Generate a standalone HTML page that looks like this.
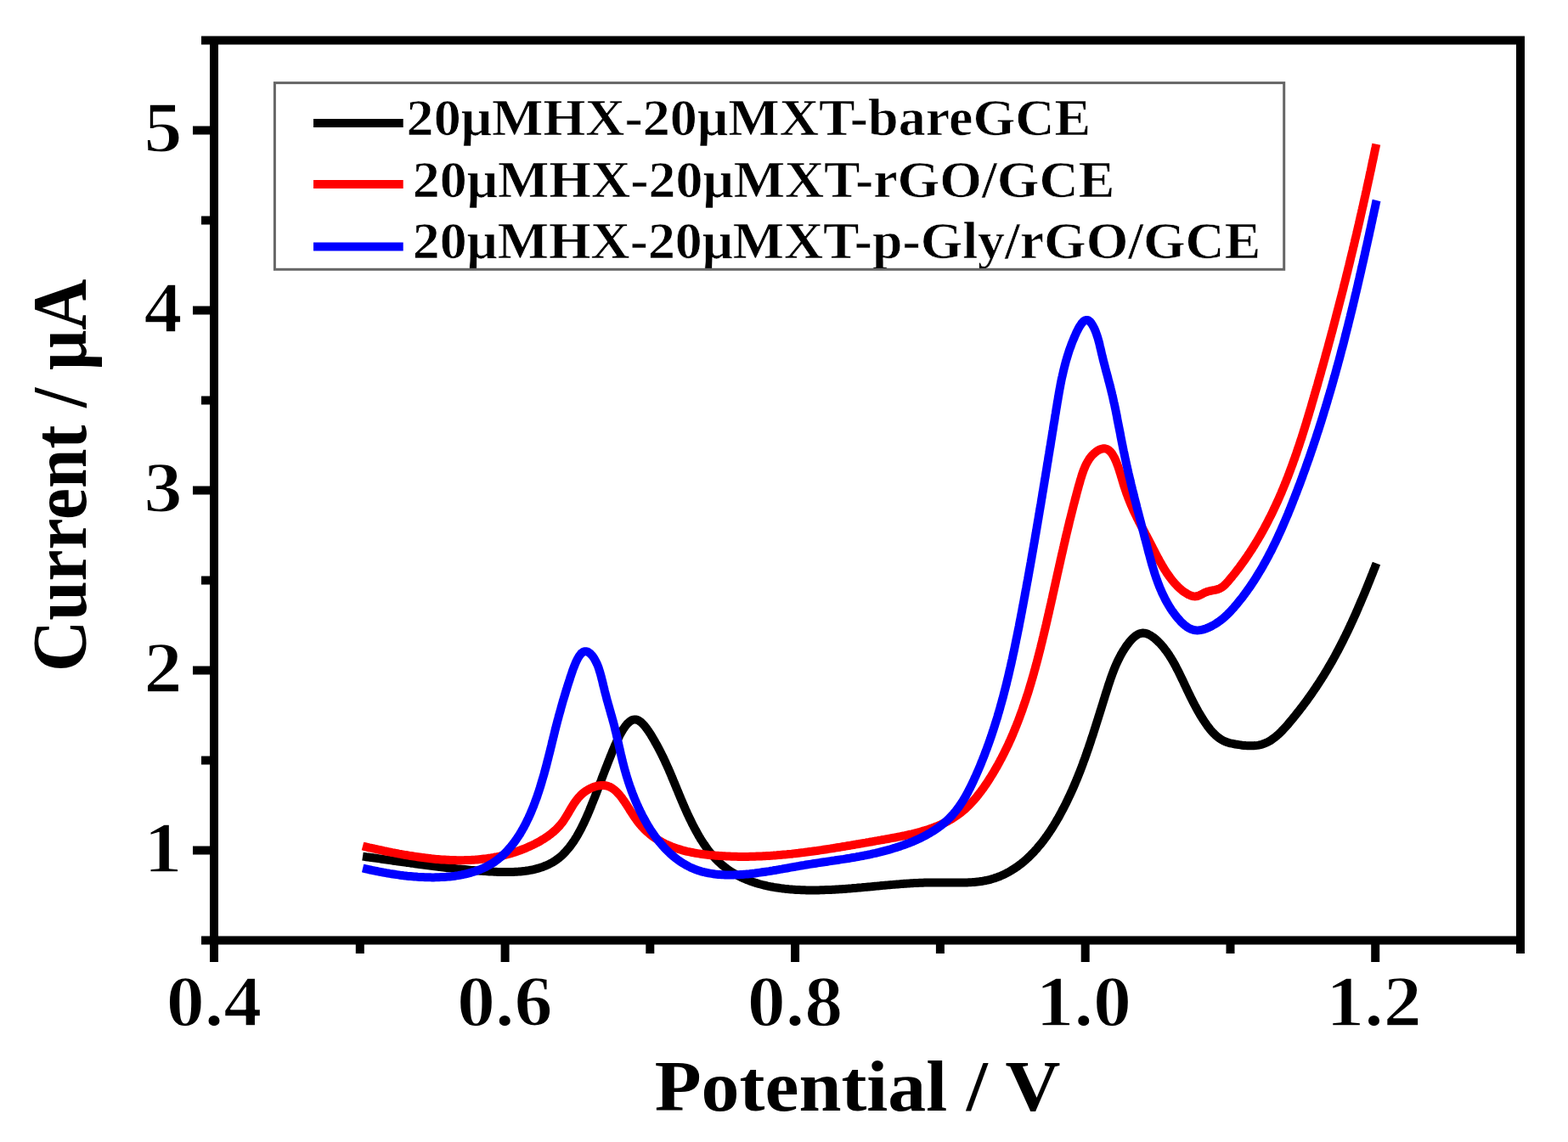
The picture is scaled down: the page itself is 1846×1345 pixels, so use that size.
<!DOCTYPE html>
<html><head><meta charset="utf-8"><title>Current vs Potential</title>
<style>html,body{margin:0;padding:0;background:#fff;}body{width:1846px;height:1345px;overflow:hidden;}svg{display:block;}</style>
</head><body>
<svg width="1846" height="1345" viewBox="0 0 1846 1345">
<rect width="1846" height="1345" fill="#fff"/>
<path d="M427.0,1008.6 L429.0,1008.9 L431.1,1009.2 L433.1,1009.4 L435.1,1009.7 L437.1,1010.0 L439.2,1010.3 L441.2,1010.6 L443.2,1010.8 L445.2,1011.1 L447.2,1011.4 L449.2,1011.7 L451.2,1012.0 L453.1,1012.3 L455.1,1012.5 L457.1,1012.8 L459.1,1013.1 L461.1,1013.4 L463.0,1013.7 L465.0,1013.9 L467.0,1014.2 L468.9,1014.5 L470.9,1014.8 L472.9,1015.0 L474.8,1015.3 L476.8,1015.6 L478.7,1015.9 L480.7,1016.1 L482.6,1016.4 L484.6,1016.7 L486.5,1016.9 L488.5,1017.2 L490.4,1017.5 L492.4,1017.7 L494.3,1018.0 L496.3,1018.3 L498.2,1018.5 L500.2,1018.8 L502.1,1019.0 L504.1,1019.3 L506.0,1019.5 L508.0,1019.8 L509.9,1020.0 L511.9,1020.3 L513.8,1020.5 L515.8,1020.7 L517.7,1021.0 L519.7,1021.2 L521.7,1021.4 L523.6,1021.7 L525.6,1021.9 L527.5,1022.1 L529.5,1022.3 L531.5,1022.5 L533.4,1022.8 L535.4,1023.0 L537.4,1023.2 L539.4,1023.4 L541.4,1023.6 L543.3,1023.8 L545.3,1024.0 L547.3,1024.1 L549.3,1024.3 L551.3,1024.5 L553.3,1024.7 L555.3,1024.9 L557.3,1025.0 L559.4,1025.2 L561.4,1025.4 L563.4,1025.5 L565.4,1025.7 L567.5,1025.8 L569.5,1026.0 L571.6,1026.1 L573.6,1026.3 L575.7,1026.4 L577.7,1026.5 L579.8,1026.6 L581.9,1026.7 L583.9,1026.8 L586.0,1026.9 L588.1,1027.0 L590.1,1027.0 L592.2,1027.1 L594.3,1027.1 L596.3,1027.1 L598.4,1027.1 L600.4,1027.1 L602.5,1027.0 L604.5,1026.9 L606.5,1026.8 L608.5,1026.7 L610.5,1026.6 L612.6,1026.4 L614.5,1026.2 L616.5,1026.0 L618.5,1025.8 L620.4,1025.5 L622.4,1025.2 L624.3,1024.8 L626.2,1024.5 L628.1,1024.1 L630.0,1023.6 L631.9,1023.1 L633.7,1022.6 L635.6,1022.1 L637.4,1021.5 L639.2,1020.9 L640.9,1020.2 L642.7,1019.5 L644.4,1018.7 L646.1,1017.9 L647.8,1017.1 L649.5,1016.2 L651.1,1015.3 L652.7,1014.3 L654.3,1013.2 L655.8,1012.1 L657.3,1011.0 L658.8,1009.8 L660.3,1008.6 L661.7,1007.3 L663.2,1005.9 L664.5,1004.5 L665.9,1003.1 L667.2,1001.6 L668.5,1000.1 L669.8,998.6 L671.0,997.0 L672.2,995.3 L673.4,993.7 L674.6,992.0 L675.8,990.3 L676.9,988.5 L678.0,986.8 L679.1,985.0 L680.1,983.2 L681.2,981.3 L682.2,979.5 L683.2,977.6 L684.2,975.8 L685.1,973.9 L686.0,972.0 L687.0,970.1 L687.9,968.2 L688.7,966.3 L689.6,964.5 L690.4,962.6 L691.3,960.7 L692.1,958.8 L692.9,956.9 L693.7,955.1 L694.4,953.2 L695.2,951.4 L695.9,949.6 L696.6,947.8 L697.3,946.0 L698.0,944.3 L698.7,942.5 L699.4,940.8 L700.1,939.1 L700.8,937.4 L701.4,935.7 L702.1,934.0 L702.7,932.3 L703.4,930.6 L704.0,928.9 L704.7,927.1 L705.3,925.4 L706.0,923.7 L706.6,922.0 L707.3,920.3 L708.0,918.5 L708.6,916.7 L709.3,915.0 L710.0,913.1 L710.7,911.3 L711.4,909.5 L712.1,907.6 L712.8,905.7 L713.6,903.8 L714.4,901.8 L715.1,899.8 L715.9,897.8 L716.7,895.7 L717.6,893.6 L718.4,891.5 L719.3,889.3 L720.2,887.1 L721.1,884.8 L722.1,882.5 L723.0,880.3 L724.0,877.9 L725.0,875.7 L726.1,873.4 L727.1,871.1 L728.2,868.9 L729.2,866.8 L730.3,864.7 L731.5,862.6 L732.6,860.7 L733.7,858.8 L734.9,857.1 L736.1,855.4 L737.2,853.9 L738.4,852.5 L739.7,851.3 L740.9,850.2 L742.1,849.3 L743.3,848.5 L744.6,847.9 L745.9,847.6 L747.1,847.4 L748.4,847.5 L749.7,847.7 L751.0,848.2 L752.3,848.9 L753.6,849.8 L754.9,850.8 L756.1,852.0 L757.4,853.3 L758.7,854.7 L760.0,856.3 L761.2,857.9 L762.4,859.6 L763.7,861.4 L764.9,863.3 L766.1,865.1 L767.2,867.0 L768.4,868.9 L769.5,870.8 L770.6,872.7 L771.6,874.6 L772.7,876.4 L773.7,878.3 L774.7,880.1 L775.6,881.9 L776.6,883.7 L777.5,885.5 L778.4,887.3 L779.3,889.1 L780.2,890.8 L781.0,892.6 L781.9,894.4 L782.7,896.1 L783.5,897.9 L784.3,899.7 L785.1,901.4 L785.9,903.2 L786.7,904.9 L787.5,906.7 L788.2,908.5 L789.0,910.2 L789.7,912.0 L790.5,913.8 L791.2,915.6 L792.0,917.4 L792.7,919.2 L793.5,921.0 L794.2,922.8 L795.0,924.7 L795.8,926.5 L796.5,928.4 L797.3,930.2 L798.1,932.1 L798.8,934.0 L799.6,935.9 L800.4,937.8 L801.2,939.7 L802.0,941.6 L802.8,943.5 L803.6,945.4 L804.4,947.3 L805.2,949.2 L806.1,951.1 L806.9,953.0 L807.8,955.0 L808.6,956.9 L809.5,958.8 L810.4,960.7 L811.3,962.6 L812.2,964.5 L813.1,966.3 L814.0,968.2 L814.9,970.1 L815.9,972.0 L816.8,973.8 L817.8,975.6 L818.8,977.5 L819.8,979.3 L820.8,981.1 L821.8,982.9 L822.8,984.7 L823.9,986.4 L824.9,988.2 L826.0,989.9 L827.1,991.6 L828.2,993.3 L829.4,995.0 L830.5,996.6 L831.7,998.3 L832.8,999.9 L834.0,1001.5 L835.2,1003.0 L836.5,1004.6 L837.7,1006.1 L839.0,1007.6 L840.3,1009.0 L841.6,1010.5 L842.9,1011.9 L844.3,1013.3 L845.6,1014.6 L847.0,1015.9 L848.4,1017.2 L849.9,1018.5 L851.3,1019.7 L852.8,1020.9 L854.3,1022.1 L855.8,1023.2 L857.3,1024.3 L858.9,1025.4 L860.5,1026.4 L862.1,1027.4 L863.7,1028.4 L865.3,1029.3 L866.9,1030.3 L868.6,1031.2 L870.3,1032.0 L872.0,1032.9 L873.7,1033.7 L875.4,1034.5 L877.2,1035.2 L878.9,1036.0 L880.7,1036.7 L882.5,1037.4 L884.3,1038.0 L886.1,1038.7 L888.0,1039.3 L889.8,1039.9 L891.7,1040.4 L893.5,1041.0 L895.4,1041.5 L897.3,1042.0 L899.2,1042.5 L901.1,1042.9 L903.0,1043.4 L905.0,1043.8 L906.9,1044.2 L908.9,1044.5 L910.8,1044.9 L912.8,1045.2 L914.8,1045.6 L916.8,1045.8 L918.8,1046.1 L920.8,1046.4 L922.8,1046.6 L924.8,1046.9 L926.8,1047.1 L928.9,1047.3 L930.9,1047.4 L932.9,1047.6 L935.0,1047.7 L937.0,1047.9 L939.1,1048.0 L941.1,1048.1 L943.2,1048.2 L945.3,1048.2 L947.3,1048.3 L949.4,1048.4 L951.5,1048.4 L953.5,1048.4 L955.6,1048.4 L957.7,1048.4 L959.8,1048.4 L961.8,1048.4 L963.9,1048.4 L966.0,1048.3 L968.0,1048.3 L970.1,1048.2 L972.2,1048.1 L974.2,1048.1 L976.3,1048.0 L978.4,1047.9 L980.4,1047.8 L982.5,1047.7 L984.5,1047.5 L986.6,1047.4 L988.6,1047.3 L990.6,1047.2 L992.7,1047.0 L994.7,1046.9 L996.7,1046.7 L998.7,1046.6 L1000.7,1046.4 L1002.7,1046.3 L1004.7,1046.1 L1006.7,1045.9 L1008.6,1045.8 L1010.6,1045.6 L1012.6,1045.4 L1014.5,1045.3 L1016.5,1045.1 L1018.4,1044.9 L1020.4,1044.7 L1022.3,1044.5 L1024.3,1044.4 L1026.2,1044.2 L1028.1,1044.0 L1030.1,1043.8 L1032.0,1043.6 L1033.9,1043.4 L1035.8,1043.3 L1037.8,1043.1 L1039.7,1042.9 L1041.6,1042.7 L1043.5,1042.6 L1045.4,1042.4 L1047.4,1042.2 L1049.3,1042.1 L1051.2,1041.9 L1053.1,1041.7 L1055.0,1041.6 L1057.0,1041.4 L1058.9,1041.3 L1060.8,1041.1 L1062.8,1041.0 L1064.7,1040.8 L1066.6,1040.7 L1068.6,1040.6 L1070.5,1040.4 L1072.5,1040.3 L1074.5,1040.2 L1076.4,1040.1 L1078.4,1040.0 L1080.4,1039.9 L1082.4,1039.8 L1084.4,1039.8 L1086.4,1039.7 L1088.4,1039.6 L1090.4,1039.6 L1092.4,1039.5 L1094.4,1039.5 L1096.5,1039.4 L1098.5,1039.4 L1100.6,1039.4 L1102.7,1039.4 L1104.7,1039.4 L1106.8,1039.4 L1108.9,1039.4 L1111.0,1039.5 L1113.1,1039.5 L1115.3,1039.5 L1117.4,1039.6 L1119.5,1039.6 L1121.6,1039.6 L1123.8,1039.6 L1125.9,1039.6 L1128.0,1039.6 L1130.1,1039.6 L1132.2,1039.6 L1134.4,1039.6 L1136.5,1039.5 L1138.6,1039.4 L1140.7,1039.3 L1142.8,1039.2 L1144.8,1039.1 L1146.9,1038.9 L1148.9,1038.7 L1151.0,1038.5 L1153.0,1038.3 L1155.0,1038.0 L1157.0,1037.7 L1159.0,1037.3 L1160.9,1037.0 L1162.9,1036.5 L1164.8,1036.1 L1166.7,1035.6 L1168.6,1035.0 L1170.4,1034.5 L1172.3,1033.8 L1174.1,1033.2 L1175.9,1032.5 L1177.7,1031.8 L1179.5,1031.0 L1181.2,1030.2 L1182.9,1029.4 L1184.6,1028.6 L1186.3,1027.7 L1188.0,1026.8 L1189.7,1025.8 L1191.3,1024.8 L1192.9,1023.8 L1194.5,1022.8 L1196.1,1021.7 L1197.7,1020.6 L1199.2,1019.5 L1200.8,1018.3 L1202.3,1017.2 L1203.8,1016.0 L1205.3,1014.7 L1206.7,1013.5 L1208.2,1012.2 L1209.6,1010.9 L1211.1,1009.5 L1212.5,1008.2 L1213.8,1006.8 L1215.2,1005.4 L1216.6,1004.0 L1217.9,1002.6 L1219.2,1001.1 L1220.6,999.6 L1221.8,998.1 L1223.1,996.6 L1224.4,995.1 L1225.7,993.5 L1226.9,992.0 L1228.1,990.4 L1229.3,988.8 L1230.5,987.2 L1231.7,985.5 L1232.9,983.9 L1234.0,982.2 L1235.2,980.6 L1236.3,978.9 L1237.4,977.2 L1238.5,975.5 L1239.6,973.8 L1240.7,972.0 L1241.7,970.3 L1242.8,968.6 L1243.8,966.8 L1244.8,965.0 L1245.9,963.3 L1246.9,961.5 L1247.8,959.7 L1248.8,957.9 L1249.8,956.1 L1250.7,954.3 L1251.7,952.5 L1252.6,950.7 L1253.5,948.9 L1254.5,947.1 L1255.4,945.3 L1256.2,943.5 L1257.1,941.6 L1258.0,939.8 L1258.8,938.0 L1259.7,936.2 L1260.5,934.4 L1261.4,932.5 L1262.2,930.7 L1263.0,928.9 L1263.8,927.1 L1264.6,925.2 L1265.4,923.4 L1266.1,921.6 L1266.9,919.7 L1267.7,917.9 L1268.4,916.1 L1269.2,914.2 L1269.9,912.4 L1270.6,910.6 L1271.4,908.7 L1272.1,906.9 L1272.8,905.0 L1273.5,903.2 L1274.2,901.3 L1274.9,899.5 L1275.5,897.6 L1276.2,895.8 L1276.9,893.9 L1277.6,892.1 L1278.2,890.2 L1278.9,888.4 L1279.5,886.5 L1280.2,884.6 L1280.8,882.8 L1281.5,880.9 L1282.1,879.0 L1282.7,877.2 L1283.4,875.3 L1284.0,873.4 L1284.6,871.5 L1285.2,869.6 L1285.8,867.8 L1286.5,865.9 L1287.1,864.0 L1287.7,862.1 L1288.3,860.2 L1288.9,858.3 L1289.5,856.4 L1290.1,854.5 L1290.7,852.6 L1291.3,850.7 L1291.9,848.8 L1292.5,846.9 L1293.1,845.0 L1293.7,843.1 L1294.3,841.2 L1294.9,839.3 L1295.5,837.3 L1296.1,835.4 L1296.7,833.5 L1297.3,831.6 L1297.9,829.6 L1298.5,827.7 L1299.1,825.8 L1299.7,823.8 L1300.3,821.9 L1300.9,819.9 L1301.5,818.0 L1302.1,816.0 L1302.8,814.1 L1303.4,812.1 L1304.0,810.2 L1304.6,808.2 L1305.3,806.2 L1305.9,804.3 L1306.6,802.3 L1307.2,800.4 L1307.9,798.4 L1308.6,796.5 L1309.3,794.6 L1310.0,792.6 L1310.7,790.7 L1311.5,788.8 L1312.2,786.9 L1313.0,785.0 L1313.8,783.1 L1314.7,781.2 L1315.5,779.4 L1316.4,777.5 L1317.3,775.7 L1318.2,773.9 L1319.2,772.1 L1320.1,770.3 L1321.2,768.5 L1322.2,766.8 L1323.3,765.1 L1324.4,763.4 L1325.5,761.7 L1326.7,760.0 L1327.9,758.4 L1329.1,756.8 L1330.4,755.2 L1331.7,753.7 L1333.1,752.3 L1334.4,751.0 L1335.9,749.7 L1337.3,748.6 L1338.8,747.7 L1340.2,746.9 L1341.8,746.3 L1343.3,745.9 L1344.9,745.6 L1346.4,745.6 L1348.0,745.8 L1349.7,746.2 L1351.3,746.8 L1352.9,747.6 L1354.5,748.4 L1356.1,749.5 L1357.7,750.6 L1359.3,751.8 L1360.8,753.1 L1362.4,754.5 L1363.8,756.0 L1365.3,757.4 L1366.7,758.9 L1368.1,760.5 L1369.4,762.0 L1370.7,763.6 L1371.9,765.3 L1373.2,766.9 L1374.4,768.6 L1375.6,770.3 L1376.7,772.0 L1377.8,773.8 L1378.9,775.5 L1380.0,777.3 L1381.0,779.1 L1382.1,780.9 L1383.1,782.8 L1384.1,784.6 L1385.0,786.4 L1386.0,788.3 L1386.9,790.1 L1387.9,792.0 L1388.8,793.9 L1389.7,795.7 L1390.6,797.6 L1391.5,799.5 L1392.4,801.3 L1393.3,803.2 L1394.1,805.0 L1395.0,806.9 L1395.9,808.7 L1396.8,810.6 L1397.6,812.4 L1398.5,814.2 L1399.4,816.1 L1400.3,817.9 L1401.1,819.7 L1402.0,821.5 L1402.9,823.3 L1403.8,825.1 L1404.7,826.9 L1405.7,828.7 L1406.6,830.5 L1407.5,832.2 L1408.5,834.0 L1409.4,835.7 L1410.4,837.5 L1411.4,839.2 L1412.4,840.9 L1413.4,842.6 L1414.5,844.4 L1415.5,846.0 L1416.6,847.7 L1417.7,849.4 L1418.8,851.1 L1420.0,852.7 L1421.1,854.4 L1422.3,856.0 L1423.6,857.6 L1424.8,859.2 L1426.1,860.7 L1427.4,862.2 L1428.8,863.6 L1430.2,865.0 L1431.6,866.4 L1433.1,867.6 L1434.6,868.8 L1436.1,869.9 L1437.8,871.0 L1439.4,871.9 L1441.1,872.8 L1442.9,873.6 L1444.7,874.2 L1446.6,874.8 L1448.5,875.3 L1450.5,875.7 L1452.4,876.1 L1454.4,876.5 L1456.4,876.8 L1458.4,877.1 L1460.4,877.4 L1462.4,877.7 L1464.4,877.9 L1466.4,878.1 L1468.4,878.2 L1470.3,878.3 L1472.3,878.3 L1474.3,878.3 L1476.2,878.2 L1478.1,878.1 L1480.0,877.9 L1481.9,877.6 L1483.8,877.2 L1485.6,876.7 L1487.4,876.1 L1489.2,875.4 L1491.0,874.7 L1492.7,873.8 L1494.4,872.9 L1496.0,871.9 L1497.7,870.8 L1499.3,869.6 L1500.9,868.4 L1502.5,867.1 L1504.0,865.8 L1505.6,864.4 L1507.1,863.0 L1508.6,861.5 L1510.0,860.0 L1511.5,858.4 L1512.9,856.9 L1514.4,855.3 L1515.8,853.7 L1517.2,852.0 L1518.5,850.4 L1519.9,848.8 L1521.3,847.1 L1522.6,845.5 L1523.9,843.9 L1525.2,842.3 L1526.5,840.6 L1527.8,839.0 L1529.1,837.4 L1530.4,835.7 L1531.6,834.1 L1532.9,832.5 L1534.1,830.8 L1535.4,829.2 L1536.6,827.6 L1537.8,826.0 L1539.0,824.3 L1540.1,822.7 L1541.3,821.1 L1542.5,819.4 L1543.6,817.8 L1544.8,816.1 L1545.9,814.5 L1547.0,812.9 L1548.1,811.2 L1549.3,809.6 L1550.3,807.9 L1551.4,806.3 L1552.5,804.6 L1553.6,803.0 L1554.6,801.3 L1555.7,799.7 L1556.7,798.0 L1557.8,796.4 L1558.8,794.7 L1559.8,793.0 L1560.8,791.4 L1561.9,789.7 L1562.9,788.0 L1563.8,786.3 L1564.8,784.6 L1565.8,783.0 L1566.8,781.3 L1567.8,779.6 L1568.7,777.9 L1569.7,776.2 L1570.6,774.5 L1571.6,772.8 L1572.5,771.0 L1573.4,769.3 L1574.3,767.6 L1575.3,765.9 L1576.2,764.1 L1577.1,762.4 L1578.0,760.6 L1578.9,758.9 L1579.8,757.1 L1580.7,755.4 L1581.6,753.6 L1582.5,751.8 L1583.3,750.0 L1584.2,748.3 L1585.1,746.5 L1585.9,744.7 L1586.8,742.9 L1587.7,741.1 L1588.5,739.2 L1589.4,737.4 L1590.2,735.6 L1591.1,733.8 L1591.9,731.9 L1592.8,730.1 L1593.6,728.3 L1594.4,726.4 L1595.3,724.6 L1596.1,722.7 L1596.9,720.9 L1597.7,719.0 L1598.5,717.2 L1599.3,715.3 L1600.1,713.4 L1600.9,711.6 L1601.7,709.7 L1602.5,707.8 L1603.3,706.0 L1604.1,704.1 L1604.9,702.3 L1605.7,700.4 L1606.5,698.5 L1607.2,696.7 L1608.0,694.8 L1608.8,692.9 L1609.5,691.1 L1610.3,689.2 L1611.0,687.4 L1611.8,685.5 L1612.5,683.7 L1613.3,681.8 L1614.0,680.0 L1614.7,678.1 L1615.5,676.3 L1616.2,674.4 L1616.9,672.6 L1617.6,670.8 L1618.4,669.0 L1619.1,667.1 L1619.8,665.3 L1620.5,663.5" fill="none" stroke="#000" stroke-width="10" stroke-linejoin="round" stroke-linecap="butt"/>
<path d="M427.0,996.5 L428.9,997.0 L430.8,997.4 L432.7,997.8 L434.6,998.3 L436.5,998.7 L438.4,999.1 L440.4,999.5 L442.3,1000.0 L444.2,1000.4 L446.2,1000.8 L448.1,1001.2 L450.0,1001.6 L452.0,1002.1 L453.9,1002.5 L455.9,1002.9 L457.9,1003.3 L459.8,1003.7 L461.8,1004.1 L463.8,1004.4 L465.8,1004.8 L467.7,1005.2 L469.7,1005.6 L471.7,1005.9 L473.7,1006.3 L475.7,1006.7 L477.7,1007.0 L479.7,1007.3 L481.7,1007.7 L483.7,1008.0 L485.7,1008.3 L487.7,1008.6 L489.7,1008.9 L491.7,1009.2 L493.7,1009.5 L495.7,1009.8 L497.7,1010.1 L499.7,1010.3 L501.7,1010.6 L503.7,1010.8 L505.7,1011.0 L507.7,1011.3 L509.7,1011.5 L511.8,1011.7 L513.8,1011.9 L515.8,1012.0 L517.8,1012.2 L519.8,1012.4 L521.8,1012.5 L523.8,1012.6 L525.8,1012.7 L527.8,1012.8 L529.9,1012.9 L531.9,1013.0 L533.9,1013.1 L535.9,1013.1 L537.9,1013.2 L539.9,1013.2 L541.9,1013.2 L543.9,1013.2 L545.9,1013.2 L547.8,1013.1 L549.8,1013.1 L551.8,1013.0 L553.8,1012.9 L555.8,1012.8 L557.8,1012.7 L559.7,1012.6 L561.7,1012.4 L563.7,1012.2 L565.6,1012.1 L567.6,1011.8 L569.6,1011.6 L571.5,1011.4 L573.5,1011.1 L575.4,1010.8 L577.3,1010.6 L579.3,1010.2 L581.2,1009.9 L583.1,1009.5 L585.1,1009.2 L587.0,1008.8 L588.9,1008.4 L590.8,1007.9 L592.7,1007.5 L594.6,1007.0 L596.5,1006.5 L598.4,1006.0 L600.3,1005.4 L602.2,1004.9 L604.1,1004.3 L606.0,1003.7 L607.9,1003.0 L609.7,1002.4 L611.6,1001.7 L613.5,1001.0 L615.4,1000.3 L617.2,999.6 L619.1,998.8 L620.9,998.0 L622.8,997.2 L624.6,996.3 L626.5,995.5 L628.3,994.6 L630.2,993.7 L632.0,992.7 L633.8,991.8 L635.6,990.8 L637.3,989.7 L639.1,988.7 L640.8,987.6 L642.5,986.5 L644.2,985.3 L645.9,984.2 L647.5,982.9 L649.1,981.7 L650.7,980.4 L652.2,979.1 L653.7,977.8 L655.2,976.4 L656.6,974.9 L657.9,973.5 L659.3,972.0 L660.5,970.5 L661.8,968.9 L663.0,967.3 L664.1,965.6 L665.2,963.9 L666.3,962.2 L667.3,960.5 L668.4,958.8 L669.4,957.1 L670.4,955.3 L671.4,953.6 L672.4,951.9 L673.5,950.1 L674.5,948.4 L675.6,946.7 L676.7,945.1 L677.9,943.4 L679.1,941.8 L680.3,940.3 L681.6,938.8 L683.0,937.3 L684.4,935.9 L685.9,934.5 L687.5,933.3 L689.2,932.0 L690.9,930.9 L692.7,929.8 L694.5,928.8 L696.3,928.0 L698.2,927.2 L700.1,926.5 L702.0,925.9 L703.9,925.5 L705.8,925.2 L707.6,925.0 L709.4,924.9 L711.1,925.0 L712.8,925.2 L714.5,925.6 L716.1,926.1 L717.6,926.7 L719.2,927.4 L720.6,928.3 L722.0,929.3 L723.4,930.3 L724.8,931.5 L726.1,932.8 L727.4,934.1 L728.7,935.5 L730.0,937.0 L731.2,938.5 L732.4,940.1 L733.6,941.8 L734.8,943.5 L736.0,945.3 L737.2,947.0 L738.3,948.8 L739.5,950.7 L740.7,952.5 L741.8,954.4 L743.0,956.2 L744.2,958.1 L745.4,959.9 L746.6,961.7 L747.9,963.5 L749.1,965.3 L750.4,967.1 L751.7,968.8 L753.0,970.4 L754.4,972.0 L755.8,973.6 L757.2,975.1 L758.6,976.6 L760.1,978.0 L761.5,979.4 L763.1,980.7 L764.6,982.0 L766.2,983.3 L767.7,984.5 L769.3,985.7 L771.0,986.8 L772.6,987.9 L774.3,988.9 L776.0,990.0 L777.7,990.9 L779.4,991.9 L781.1,992.8 L782.9,993.7 L784.7,994.5 L786.5,995.3 L788.3,996.1 L790.1,996.9 L791.9,997.6 L793.8,998.3 L795.7,998.9 L797.5,999.6 L799.4,1000.2 L801.3,1000.7 L803.2,1001.3 L805.2,1001.8 L807.1,1002.3 L809.1,1002.8 L811.0,1003.2 L813.0,1003.6 L814.9,1004.0 L816.9,1004.4 L818.9,1004.8 L820.9,1005.1 L822.9,1005.4 L824.9,1005.7 L826.9,1006.0 L828.9,1006.3 L830.9,1006.5 L832.9,1006.7 L834.9,1007.0 L836.9,1007.2 L838.9,1007.3 L841.0,1007.5 L843.0,1007.7 L845.0,1007.8 L847.0,1008.0 L849.0,1008.1 L851.0,1008.2 L853.0,1008.3 L855.0,1008.4 L857.0,1008.5 L859.0,1008.6 L861.0,1008.7 L863.0,1008.7 L865.0,1008.8 L867.0,1008.8 L869.0,1008.9 L871.0,1008.9 L873.0,1008.9 L875.0,1008.9 L876.9,1008.9 L878.9,1008.9 L880.9,1008.9 L882.9,1008.8 L884.9,1008.8 L886.8,1008.7 L888.8,1008.7 L890.8,1008.6 L892.8,1008.6 L894.7,1008.5 L896.7,1008.4 L898.7,1008.3 L900.7,1008.2 L902.6,1008.1 L904.6,1008.0 L906.6,1007.9 L908.5,1007.7 L910.5,1007.6 L912.5,1007.4 L914.4,1007.3 L916.4,1007.1 L918.4,1007.0 L920.3,1006.8 L922.3,1006.6 L924.3,1006.4 L926.2,1006.3 L928.2,1006.1 L930.1,1005.9 L932.1,1005.7 L934.1,1005.4 L936.0,1005.2 L938.0,1005.0 L940.0,1004.8 L941.9,1004.5 L943.9,1004.3 L945.8,1004.1 L947.8,1003.8 L949.8,1003.6 L951.7,1003.3 L953.7,1003.0 L955.7,1002.8 L957.6,1002.5 L959.6,1002.2 L961.6,1002.0 L963.5,1001.7 L965.5,1001.4 L967.5,1001.1 L969.4,1000.8 L971.4,1000.5 L973.4,1000.2 L975.3,999.9 L977.3,999.6 L979.3,999.3 L981.3,999.0 L983.2,998.6 L985.2,998.3 L987.2,998.0 L989.2,997.7 L991.2,997.3 L993.1,997.0 L995.1,996.7 L997.1,996.3 L999.1,996.0 L1001.1,995.7 L1003.1,995.3 L1005.1,995.0 L1007.0,994.6 L1009.0,994.3 L1011.0,994.0 L1013.0,993.6 L1015.0,993.3 L1017.0,992.9 L1019.0,992.6 L1021.0,992.2 L1023.0,991.9 L1025.1,991.5 L1027.1,991.2 L1029.1,990.8 L1031.1,990.4 L1033.1,990.1 L1035.1,989.7 L1037.2,989.4 L1039.2,989.0 L1041.2,988.7 L1043.2,988.3 L1045.3,988.0 L1047.3,987.6 L1049.3,987.2 L1051.3,986.8 L1053.4,986.5 L1055.4,986.1 L1057.4,985.7 L1059.4,985.3 L1061.4,984.9 L1063.4,984.5 L1065.4,984.1 L1067.4,983.6 L1069.4,983.2 L1071.4,982.7 L1073.4,982.3 L1075.4,981.8 L1077.3,981.3 L1079.3,980.8 L1081.2,980.3 L1083.2,979.8 L1085.1,979.2 L1087.0,978.6 L1088.9,978.1 L1090.8,977.5 L1092.7,976.9 L1094.6,976.2 L1096.5,975.6 L1098.3,974.9 L1100.2,974.2 L1102.0,973.5 L1103.8,972.8 L1105.6,972.0 L1107.4,971.2 L1109.2,970.4 L1110.9,969.6 L1112.7,968.7 L1114.4,967.9 L1116.1,967.0 L1117.8,966.0 L1119.4,965.1 L1121.1,964.1 L1122.7,963.1 L1124.3,962.0 L1125.9,960.9 L1127.5,959.8 L1129.0,958.7 L1130.6,957.5 L1132.1,956.3 L1133.5,955.1 L1135.0,953.9 L1136.5,952.6 L1137.9,951.3 L1139.3,949.9 L1140.7,948.6 L1142.0,947.2 L1143.4,945.8 L1144.7,944.3 L1146.0,942.9 L1147.3,941.4 L1148.6,939.9 L1149.9,938.4 L1151.1,936.9 L1152.3,935.3 L1153.6,933.7 L1154.8,932.2 L1155.9,930.6 L1157.1,929.0 L1158.3,927.3 L1159.4,925.7 L1160.6,924.0 L1161.7,922.4 L1162.8,920.7 L1163.9,919.0 L1165.0,917.3 L1166.0,915.6 L1167.1,913.9 L1168.1,912.2 L1169.2,910.5 L1170.2,908.8 L1171.2,907.1 L1172.2,905.3 L1173.2,903.6 L1174.2,901.9 L1175.2,900.1 L1176.1,898.4 L1177.1,896.6 L1178.0,894.8 L1179.0,893.1 L1179.9,891.3 L1180.8,889.5 L1181.7,887.7 L1182.6,885.9 L1183.5,884.1 L1184.4,882.3 L1185.3,880.5 L1186.1,878.7 L1187.0,876.9 L1187.8,875.1 L1188.6,873.2 L1189.5,871.4 L1190.3,869.6 L1191.1,867.7 L1191.9,865.9 L1192.7,864.1 L1193.4,862.2 L1194.2,860.4 L1195.0,858.5 L1195.7,856.6 L1196.5,854.8 L1197.2,852.9 L1198.0,851.0 L1198.7,849.2 L1199.4,847.3 L1200.1,845.4 L1200.8,843.5 L1201.5,841.6 L1202.2,839.7 L1202.9,837.8 L1203.6,835.9 L1204.2,834.0 L1204.9,832.1 L1205.5,830.2 L1206.2,828.3 L1206.8,826.4 L1207.5,824.5 L1208.1,822.6 L1208.7,820.7 L1209.3,818.8 L1210.0,816.8 L1210.6,814.9 L1211.2,813.0 L1211.8,811.1 L1212.3,809.2 L1212.9,807.2 L1213.5,805.3 L1214.1,803.4 L1214.6,801.4 L1215.2,799.5 L1215.8,797.6 L1216.3,795.6 L1216.9,793.7 L1217.4,791.8 L1217.9,789.8 L1218.5,787.9 L1219.0,786.0 L1219.5,784.0 L1220.1,782.1 L1220.6,780.1 L1221.1,778.2 L1221.6,776.3 L1222.1,774.3 L1222.6,772.4 L1223.1,770.4 L1223.6,768.5 L1224.1,766.6 L1224.6,764.6 L1225.1,762.7 L1225.5,760.7 L1226.0,758.8 L1226.5,756.9 L1227.0,754.9 L1227.4,753.0 L1227.9,751.1 L1228.4,749.1 L1228.8,747.2 L1229.3,745.3 L1229.8,743.3 L1230.2,741.4 L1230.7,739.5 L1231.1,737.6 L1231.6,735.6 L1232.0,733.7 L1232.5,731.8 L1232.9,729.9 L1233.3,727.9 L1233.8,726.0 L1234.2,724.1 L1234.7,722.2 L1235.1,720.2 L1235.5,718.3 L1236.0,716.4 L1236.4,714.5 L1236.8,712.6 L1237.3,710.6 L1237.7,708.7 L1238.1,706.8 L1238.6,704.9 L1239.0,703.0 L1239.4,701.0 L1239.8,699.1 L1240.3,697.2 L1240.7,695.3 L1241.1,693.4 L1241.5,691.4 L1242.0,689.5 L1242.4,687.6 L1242.8,685.7 L1243.2,683.7 L1243.7,681.8 L1244.1,679.9 L1244.5,678.0 L1244.9,676.0 L1245.4,674.1 L1245.8,672.2 L1246.2,670.2 L1246.7,668.3 L1247.1,666.4 L1247.5,664.4 L1248.0,662.5 L1248.4,660.6 L1248.8,658.6 L1249.3,656.7 L1249.7,654.7 L1250.1,652.8 L1250.6,650.9 L1251.0,648.9 L1251.5,647.0 L1251.9,645.0 L1252.4,643.1 L1252.8,641.1 L1253.3,639.2 L1253.7,637.2 L1254.2,635.2 L1254.6,633.3 L1255.1,631.3 L1255.5,629.4 L1256.0,627.4 L1256.5,625.4 L1256.9,623.5 L1257.4,621.5 L1257.9,619.5 L1258.4,617.5 L1258.8,615.5 L1259.3,613.6 L1259.8,611.6 L1260.3,609.6 L1260.8,607.6 L1261.3,605.6 L1261.8,603.6 L1262.3,601.6 L1262.8,599.6 L1263.3,597.6 L1263.8,595.6 L1264.3,593.6 L1264.9,591.6 L1265.4,589.5 L1265.9,587.5 L1266.5,585.5 L1267.0,583.5 L1267.5,581.4 L1268.1,579.4 L1268.6,577.3 L1269.2,575.3 L1269.7,573.3 L1270.3,571.2 L1270.9,569.2 L1271.5,567.1 L1272.0,565.1 L1272.7,563.0 L1273.3,561.0 L1273.9,559.0 L1274.6,557.0 L1275.3,555.0 L1276.0,553.1 L1276.8,551.2 L1277.6,549.3 L1278.4,547.5 L1279.3,545.7 L1280.3,544.0 L1281.3,542.3 L1282.3,540.7 L1283.4,539.1 L1284.6,537.6 L1285.8,536.2 L1287.2,534.9 L1288.5,533.6 L1290.0,532.4 L1291.5,531.3 L1293.1,530.3 L1294.7,529.5 L1296.3,528.9 L1297.9,528.5 L1299.4,528.3 L1300.9,528.3 L1302.3,528.7 L1303.6,529.2 L1304.9,529.9 L1306.1,530.9 L1307.3,532.0 L1308.4,533.3 L1309.5,534.8 L1310.5,536.5 L1311.5,538.2 L1312.5,540.1 L1313.4,542.1 L1314.3,544.2 L1315.1,546.4 L1316.0,548.7 L1316.8,551.0 L1317.6,553.4 L1318.3,555.8 L1319.1,558.2 L1319.8,560.7 L1320.6,563.1 L1321.3,565.5 L1322.0,567.9 L1322.7,570.2 L1323.4,572.5 L1324.2,574.7 L1324.9,576.9 L1325.6,579.0 L1326.3,581.1 L1327.1,583.1 L1327.8,585.1 L1328.5,587.0 L1329.3,588.9 L1330.0,590.8 L1330.8,592.6 L1331.5,594.4 L1332.3,596.2 L1333.0,597.9 L1333.8,599.6 L1334.5,601.3 L1335.3,602.9 L1336.1,604.6 L1336.9,606.2 L1337.7,607.8 L1338.4,609.4 L1339.2,611.0 L1340.0,612.6 L1340.8,614.2 L1341.7,615.8 L1342.5,617.3 L1343.3,618.9 L1344.1,620.5 L1345.0,622.1 L1345.8,623.7 L1346.7,625.3 L1347.6,626.9 L1348.4,628.6 L1349.3,630.2 L1350.2,631.9 L1351.1,633.6 L1352.0,635.3 L1352.9,637.1 L1353.8,638.9 L1354.8,640.7 L1355.7,642.5 L1356.7,644.4 L1357.6,646.3 L1358.6,648.2 L1359.6,650.1 L1360.6,652.0 L1361.6,654.0 L1362.6,655.9 L1363.7,657.8 L1364.7,659.8 L1365.8,661.7 L1366.9,663.6 L1368.0,665.6 L1369.1,667.5 L1370.3,669.4 L1371.4,671.3 L1372.6,673.1 L1373.8,675.0 L1375.1,676.8 L1376.3,678.5 L1377.6,680.3 L1378.9,682.0 L1380.2,683.7 L1381.5,685.3 L1382.9,686.9 L1384.3,688.4 L1385.7,689.9 L1387.1,691.3 L1388.6,692.7 L1390.1,694.0 L1391.6,695.3 L1393.1,696.5 L1394.7,697.6 L1396.3,698.6 L1397.9,699.6 L1399.6,700.5 L1401.3,701.2 L1403.0,701.8 L1404.7,702.2 L1406.4,702.4 L1408.1,702.3 L1409.9,702.0 L1411.6,701.4 L1413.3,700.6 L1415.1,699.7 L1416.8,698.7 L1418.7,697.8 L1420.5,697.1 L1422.5,696.5 L1424.4,696.0 L1426.4,695.6 L1428.4,695.2 L1430.4,694.8 L1432.3,694.3 L1434.2,693.8 L1436.0,693.1 L1437.6,692.2 L1439.2,691.2 L1440.8,690.0 L1442.2,688.6 L1443.6,687.2 L1445.0,685.7 L1446.3,684.2 L1447.6,682.6 L1448.9,681.1 L1450.2,679.5 L1451.4,678.0 L1452.7,676.4 L1454.0,674.8 L1455.2,673.2 L1456.4,671.6 L1457.7,670.0 L1458.9,668.4 L1460.1,666.8 L1461.2,665.2 L1462.4,663.6 L1463.6,661.9 L1464.8,660.3 L1465.9,658.7 L1467.0,657.0 L1468.2,655.4 L1469.3,653.7 L1470.4,652.1 L1471.5,650.4 L1472.6,648.7 L1473.7,647.1 L1474.7,645.4 L1475.8,643.7 L1476.9,642.0 L1477.9,640.3 L1478.9,638.6 L1480.0,636.9 L1481.0,635.2 L1482.0,633.5 L1483.0,631.8 L1484.0,630.1 L1485.0,628.3 L1485.9,626.6 L1486.9,624.9 L1487.9,623.1 L1488.8,621.4 L1489.7,619.6 L1490.7,617.9 L1491.6,616.1 L1492.5,614.4 L1493.4,612.6 L1494.3,610.8 L1495.2,609.0 L1496.1,607.3 L1497.0,605.5 L1497.9,603.7 L1498.7,601.9 L1499.6,600.1 L1500.4,598.3 L1501.3,596.5 L1502.1,594.7 L1502.9,592.9 L1503.8,591.1 L1504.6,589.3 L1505.4,587.5 L1506.2,585.6 L1507.0,583.8 L1507.8,582.0 L1508.6,580.2 L1509.3,578.3 L1510.1,576.5 L1510.9,574.6 L1511.6,572.8 L1512.4,571.0 L1513.1,569.1 L1513.9,567.3 L1514.6,565.4 L1515.3,563.5 L1516.1,561.7 L1516.8,559.8 L1517.5,558.0 L1518.2,556.1 L1518.9,554.2 L1519.6,552.3 L1520.3,550.5 L1521.0,548.6 L1521.7,546.7 L1522.4,544.8 L1523.0,542.9 L1523.7,541.1 L1524.4,539.2 L1525.0,537.3 L1525.7,535.4 L1526.4,533.5 L1527.0,531.6 L1527.6,529.7 L1528.3,527.8 L1528.9,525.9 L1529.6,524.0 L1530.2,522.1 L1530.8,520.2 L1531.4,518.3 L1532.1,516.4 L1532.7,514.5 L1533.3,512.6 L1533.9,510.6 L1534.5,508.7 L1535.1,506.8 L1535.7,504.9 L1536.3,503.0 L1536.9,501.1 L1537.5,499.1 L1538.1,497.2 L1538.6,495.3 L1539.2,493.4 L1539.8,491.5 L1540.4,489.5 L1541.0,487.6 L1541.5,485.7 L1542.1,483.8 L1542.7,481.8 L1543.3,479.9 L1543.8,478.0 L1544.4,476.1 L1544.9,474.1 L1545.5,472.2 L1546.1,470.3 L1546.6,468.4 L1547.2,466.4 L1547.7,464.5 L1548.3,462.6 L1548.8,460.7 L1549.4,458.7 L1550.0,456.8 L1550.5,454.9 L1551.1,453.0 L1551.6,451.0 L1552.1,449.1 L1552.7,447.2 L1553.2,445.2 L1553.8,443.3 L1554.3,441.4 L1554.9,439.5 L1555.4,437.5 L1555.9,435.6 L1556.5,433.7 L1557.0,431.8 L1557.6,429.8 L1558.1,427.9 L1558.6,426.0 L1559.2,424.1 L1559.7,422.1 L1560.2,420.2 L1560.7,418.3 L1561.3,416.3 L1561.8,414.4 L1562.3,412.5 L1562.9,410.6 L1563.4,408.6 L1563.9,406.7 L1564.4,404.8 L1564.9,402.9 L1565.5,400.9 L1566.0,399.0 L1566.5,397.1 L1567.0,395.2 L1567.5,393.2 L1568.1,391.3 L1568.6,389.4 L1569.1,387.4 L1569.6,385.5 L1570.1,383.6 L1570.6,381.7 L1571.1,379.7 L1571.6,377.8 L1572.1,375.9 L1572.6,373.9 L1573.1,372.0 L1573.6,370.1 L1574.1,368.2 L1574.6,366.2 L1575.1,364.3 L1575.6,362.4 L1576.1,360.4 L1576.6,358.5 L1577.1,356.6 L1577.6,354.6 L1578.1,352.7 L1578.6,350.8 L1579.1,348.9 L1579.6,346.9 L1580.1,345.0 L1580.6,343.1 L1581.1,341.1 L1581.6,339.2 L1582.0,337.3 L1582.5,335.3 L1583.0,333.4 L1583.5,331.5 L1584.0,329.5 L1584.5,327.6 L1584.9,325.7 L1585.4,323.7 L1585.9,321.8 L1586.4,319.9 L1586.8,317.9 L1587.3,316.0 L1587.8,314.1 L1588.3,312.1 L1588.7,310.2 L1589.2,308.2 L1589.7,306.3 L1590.1,304.4 L1590.6,302.4 L1591.1,300.5 L1591.5,298.6 L1592.0,296.6 L1592.5,294.7 L1592.9,292.7 L1593.4,290.8 L1593.9,288.9 L1594.3,286.9 L1594.8,285.0 L1595.2,283.0 L1595.7,281.1 L1596.2,279.2 L1596.6,277.2 L1597.1,275.3 L1597.5,273.3 L1598.0,271.4 L1598.4,269.4 L1598.9,267.5 L1599.3,265.6 L1599.8,263.6 L1600.2,261.7 L1600.7,259.7 L1601.1,257.8 L1601.6,255.8 L1602.0,253.9 L1602.4,251.9 L1602.9,250.0 L1603.3,248.0 L1603.8,246.1 L1604.2,244.1 L1604.7,242.2 L1605.1,240.2 L1605.5,238.3 L1606.0,236.3 L1606.4,234.4 L1606.8,232.4 L1607.3,230.5 L1607.7,228.5 L1608.1,226.6 L1608.6,224.6 L1609.0,222.7 L1609.4,220.7 L1609.8,218.8 L1610.3,216.8 L1610.7,214.8 L1611.1,212.9 L1611.6,210.9 L1612.0,209.0 L1612.4,207.0 L1612.8,205.0 L1613.2,203.1 L1613.7,201.1 L1614.1,199.2 L1614.5,197.2 L1614.9,195.2 L1615.3,193.3 L1615.7,191.3 L1616.2,189.3 L1616.6,187.4 L1617.0,185.4 L1617.4,183.5 L1617.8,181.5 L1618.2,179.5 L1618.6,177.6 L1619.0,175.6 L1619.5,173.6 L1619.9,171.6 L1620.3,169.7" fill="none" stroke="#f00" stroke-width="10" stroke-linejoin="round" stroke-linecap="butt"/>
<path d="M427.1,1022.5 L428.8,1022.9 L430.6,1023.3 L432.3,1023.7 L434.1,1024.1 L435.9,1024.5 L437.7,1024.9 L439.6,1025.3 L441.4,1025.6 L443.3,1026.0 L445.2,1026.4 L447.1,1026.8 L449.0,1027.1 L451.0,1027.5 L452.9,1027.8 L454.9,1028.2 L456.9,1028.5 L458.9,1028.9 L460.9,1029.2 L462.9,1029.5 L464.9,1029.8 L466.9,1030.1 L469.0,1030.4 L471.0,1030.7 L473.1,1030.9 L475.1,1031.2 L477.2,1031.4 L479.3,1031.7 L481.4,1031.9 L483.4,1032.1 L485.5,1032.3 L487.6,1032.5 L489.7,1032.6 L491.8,1032.8 L493.9,1032.9 L496.0,1033.0 L498.1,1033.1 L500.2,1033.2 L502.3,1033.3 L504.4,1033.3 L506.5,1033.3 L508.6,1033.4 L510.7,1033.4 L512.8,1033.3 L514.9,1033.3 L517.0,1033.2 L519.1,1033.1 L521.1,1033.0 L523.2,1032.9 L525.2,1032.8 L527.3,1032.6 L529.3,1032.4 L531.4,1032.2 L533.4,1031.9 L535.4,1031.7 L537.4,1031.4 L539.4,1031.1 L541.4,1030.7 L543.4,1030.4 L545.3,1030.0 L547.3,1029.5 L549.2,1029.1 L551.1,1028.6 L553.0,1028.1 L554.9,1027.6 L556.7,1027.0 L558.6,1026.4 L560.4,1025.8 L562.2,1025.2 L564.0,1024.5 L565.8,1023.8 L567.6,1023.0 L569.3,1022.3 L571.0,1021.5 L572.7,1020.6 L574.4,1019.7 L576.0,1018.8 L577.6,1017.9 L579.2,1016.9 L580.8,1015.9 L582.4,1014.9 L583.9,1013.8 L585.4,1012.7 L586.9,1011.5 L588.3,1010.3 L589.8,1009.1 L591.2,1007.9 L592.5,1006.6 L593.9,1005.3 L595.3,1004.0 L596.6,1002.6 L597.9,1001.2 L599.1,999.8 L600.4,998.3 L601.6,996.9 L602.8,995.4 L604.0,993.9 L605.2,992.3 L606.4,990.7 L607.5,989.1 L608.6,987.5 L609.7,985.9 L610.8,984.2 L611.9,982.6 L612.9,980.9 L613.9,979.1 L614.9,977.4 L615.9,975.6 L616.9,973.9 L617.8,972.1 L618.8,970.3 L619.7,968.4 L620.6,966.6 L621.5,964.7 L622.4,962.9 L623.2,961.0 L624.1,959.1 L624.9,957.2 L625.7,955.3 L626.5,953.3 L627.3,951.4 L628.1,949.5 L628.8,947.5 L629.6,945.5 L630.3,943.6 L631.0,941.6 L631.8,939.6 L632.5,937.6 L633.1,935.6 L633.8,933.6 L634.5,931.6 L635.1,929.6 L635.8,927.5 L636.4,925.5 L637.0,923.5 L637.6,921.5 L638.2,919.4 L638.8,917.4 L639.4,915.4 L640.0,913.4 L640.6,911.4 L641.1,909.3 L641.7,907.3 L642.2,905.3 L642.8,903.3 L643.3,901.3 L643.8,899.3 L644.3,897.3 L644.8,895.3 L645.3,893.4 L645.8,891.4 L646.3,889.4 L646.8,887.5 L647.3,885.5 L647.8,883.6 L648.2,881.7 L648.7,879.8 L649.2,877.9 L649.6,876.0 L650.1,874.1 L650.5,872.3 L651.0,870.4 L651.4,868.6 L651.9,866.8 L652.3,865.0 L652.8,863.2 L653.2,861.4 L653.6,859.7 L654.1,857.9 L654.5,856.2 L655.0,854.4 L655.4,852.7 L655.9,850.9 L656.3,849.2 L656.8,847.4 L657.3,845.7 L657.7,843.9 L658.2,842.1 L658.7,840.4 L659.2,838.6 L659.7,836.8 L660.2,835.0 L660.7,833.1 L661.2,831.3 L661.7,829.4 L662.3,827.5 L662.8,825.6 L663.4,823.7 L664.0,821.8 L664.6,819.8 L665.2,817.8 L665.8,815.8 L666.4,813.7 L667.1,811.6 L667.7,809.5 L668.4,807.3 L669.1,805.1 L669.8,802.9 L670.6,800.6 L671.3,798.2 L672.1,795.9 L672.9,793.5 L673.7,791.1 L674.5,788.7 L675.4,786.4 L676.3,784.1 L677.2,781.9 L678.1,779.8 L679.0,777.8 L680.0,775.9 L681.0,774.1 L682.0,772.5 L683.1,771.1 L684.1,769.8 L685.2,768.8 L686.4,768.0 L687.5,767.4 L688.7,767.2 L689.9,767.2 L691.2,767.4 L692.5,768.0 L693.7,768.8 L695.0,769.9 L696.3,771.2 L697.5,772.6 L698.7,774.2 L699.8,776.0 L700.9,777.9 L701.9,779.9 L702.9,782.0 L703.8,784.1 L704.6,786.3 L705.3,788.5 L706.0,790.8 L706.7,793.0 L707.3,795.2 L707.9,797.4 L708.4,799.6 L709.0,801.7 L709.5,803.7 L709.9,805.7 L710.4,807.7 L710.9,809.6 L711.4,811.5 L711.8,813.4 L712.3,815.3 L712.8,817.2 L713.3,819.1 L713.8,821.0 L714.3,823.0 L714.8,824.9 L715.4,826.8 L715.9,828.8 L716.5,830.7 L717.0,832.7 L717.6,834.6 L718.1,836.6 L718.7,838.5 L719.2,840.5 L719.8,842.5 L720.4,844.4 L720.9,846.4 L721.4,848.3 L722.0,850.3 L722.5,852.2 L723.0,854.1 L723.5,856.1 L724.0,858.0 L724.4,859.9 L724.9,861.8 L725.4,863.7 L725.8,865.6 L726.2,867.5 L726.7,869.4 L727.1,871.3 L727.5,873.2 L728.0,875.1 L728.4,877.0 L728.8,878.8 L729.2,880.7 L729.7,882.6 L730.1,884.5 L730.5,886.4 L730.9,888.2 L731.4,890.1 L731.8,892.0 L732.3,893.9 L732.7,895.8 L733.2,897.7 L733.7,899.6 L734.2,901.5 L734.7,903.4 L735.2,905.3 L735.7,907.2 L736.3,909.1 L736.8,911.1 L737.4,913.0 L738.0,914.9 L738.6,916.9 L739.2,918.8 L739.8,920.8 L740.5,922.7 L741.1,924.6 L741.8,926.6 L742.5,928.5 L743.2,930.5 L743.9,932.4 L744.6,934.3 L745.4,936.3 L746.1,938.2 L746.9,940.1 L747.7,942.1 L748.5,944.0 L749.3,945.9 L750.2,947.8 L751.0,949.7 L751.9,951.6 L752.8,953.5 L753.6,955.3 L754.6,957.2 L755.5,959.0 L756.4,960.9 L757.4,962.7 L758.4,964.5 L759.4,966.3 L760.4,968.1 L761.4,969.9 L762.4,971.7 L763.5,973.4 L764.6,975.1 L765.6,976.9 L766.7,978.6 L767.9,980.2 L769.0,981.9 L770.2,983.6 L771.3,985.2 L772.5,986.8 L773.7,988.4 L774.9,989.9 L776.2,991.5 L777.4,993.0 L778.7,994.5 L780.0,996.0 L781.3,997.4 L782.6,998.9 L783.9,1000.3 L785.3,1001.7 L786.7,1003.0 L788.0,1004.3 L789.4,1005.6 L790.9,1006.9 L792.3,1008.1 L793.8,1009.4 L795.2,1010.5 L796.7,1011.7 L798.2,1012.8 L799.8,1013.9 L801.3,1015.0 L802.9,1016.0 L804.5,1017.0 L806.1,1017.9 L807.7,1018.8 L809.3,1019.7 L811.0,1020.6 L812.6,1021.4 L814.3,1022.2 L816.0,1022.9 L817.7,1023.6 L819.5,1024.3 L821.3,1024.9 L823.0,1025.5 L824.8,1026.1 L826.6,1026.6 L828.5,1027.0 L830.3,1027.5 L832.2,1027.9 L834.0,1028.3 L835.9,1028.6 L837.8,1028.9 L839.8,1029.2 L841.7,1029.5 L843.6,1029.7 L845.6,1029.9 L847.6,1030.0 L849.5,1030.2 L851.5,1030.3 L853.5,1030.4 L855.5,1030.4 L857.6,1030.4 L859.6,1030.5 L861.6,1030.4 L863.7,1030.4 L865.7,1030.3 L867.8,1030.3 L869.8,1030.2 L871.9,1030.0 L874.0,1029.9 L876.1,1029.7 L878.2,1029.6 L880.3,1029.4 L882.4,1029.2 L884.5,1028.9 L886.6,1028.7 L888.7,1028.5 L890.8,1028.2 L892.9,1027.9 L895.0,1027.6 L897.1,1027.3 L899.3,1027.0 L901.4,1026.7 L903.5,1026.4 L905.6,1026.1 L907.7,1025.7 L909.8,1025.4 L911.9,1025.0 L914.0,1024.7 L916.1,1024.3 L918.2,1023.9 L920.3,1023.6 L922.4,1023.2 L924.5,1022.8 L926.6,1022.5 L928.7,1022.1 L930.7,1021.7 L932.8,1021.3 L934.9,1021.0 L936.9,1020.6 L938.9,1020.3 L941.0,1019.9 L943.0,1019.5 L945.0,1019.2 L947.0,1018.9 L949.0,1018.5 L951.0,1018.2 L953.0,1017.9 L954.9,1017.6 L956.9,1017.3 L958.8,1017.0 L960.8,1016.7 L962.7,1016.4 L964.7,1016.1 L966.6,1015.8 L968.5,1015.5 L970.4,1015.2 L972.3,1015.0 L974.2,1014.7 L976.1,1014.4 L978.0,1014.1 L979.9,1013.8 L981.8,1013.6 L983.6,1013.3 L985.5,1013.0 L987.4,1012.7 L989.3,1012.4 L991.1,1012.1 L993.0,1011.9 L994.9,1011.6 L996.7,1011.3 L998.6,1011.0 L1000.5,1010.7 L1002.4,1010.3 L1004.2,1010.0 L1006.1,1009.7 L1008.0,1009.4 L1009.8,1009.0 L1011.7,1008.7 L1013.6,1008.3 L1015.5,1008.0 L1017.4,1007.6 L1019.3,1007.2 L1021.1,1006.9 L1023.0,1006.5 L1024.9,1006.1 L1026.9,1005.6 L1028.8,1005.2 L1030.7,1004.8 L1032.6,1004.3 L1034.5,1003.9 L1036.5,1003.4 L1038.4,1002.9 L1040.4,1002.4 L1042.3,1001.9 L1044.3,1001.4 L1046.2,1000.8 L1048.2,1000.3 L1050.2,999.7 L1052.1,999.1 L1054.1,998.5 L1056.1,997.9 L1058.0,997.2 L1060.0,996.6 L1061.9,995.9 L1063.9,995.2 L1065.8,994.5 L1067.7,993.8 L1069.7,993.1 L1071.6,992.3 L1073.5,991.6 L1075.4,990.8 L1077.3,989.9 L1079.2,989.1 L1081.0,988.3 L1082.9,987.4 L1084.7,986.5 L1086.5,985.6 L1088.4,984.6 L1090.2,983.7 L1091.9,982.7 L1093.7,981.7 L1095.4,980.7 L1097.2,979.6 L1098.9,978.6 L1100.6,977.5 L1102.2,976.4 L1103.9,975.2 L1105.5,974.0 L1107.1,972.9 L1108.7,971.6 L1110.2,970.4 L1111.7,969.1 L1113.2,967.8 L1114.7,966.5 L1116.1,965.2 L1117.5,963.8 L1118.9,962.4 L1120.2,961.0 L1121.6,959.5 L1122.8,958.0 L1124.1,956.5 L1125.3,955.0 L1126.5,953.4 L1127.7,951.9 L1128.9,950.3 L1130.0,948.7 L1131.1,947.0 L1132.2,945.4 L1133.3,943.7 L1134.3,942.0 L1135.4,940.3 L1136.4,938.6 L1137.4,936.9 L1138.3,935.1 L1139.3,933.4 L1140.2,931.6 L1141.1,929.8 L1142.1,928.0 L1142.9,926.2 L1143.8,924.4 L1144.7,922.6 L1145.6,920.8 L1146.4,919.0 L1147.2,917.1 L1148.1,915.3 L1148.9,913.5 L1149.7,911.6 L1150.5,909.8 L1151.3,908.0 L1152.1,906.1 L1152.9,904.3 L1153.7,902.4 L1154.4,900.6 L1155.2,898.7 L1155.9,896.8 L1156.7,895.0 L1157.4,893.1 L1158.2,891.2 L1158.9,889.4 L1159.6,887.5 L1160.3,885.6 L1161.0,883.8 L1161.7,881.9 L1162.4,880.0 L1163.1,878.1 L1163.8,876.2 L1164.4,874.4 L1165.1,872.5 L1165.8,870.6 L1166.4,868.7 L1167.1,866.8 L1167.7,864.9 L1168.3,863.0 L1169.0,861.1 L1169.6,859.2 L1170.2,857.3 L1170.8,855.4 L1171.4,853.5 L1172.0,851.6 L1172.6,849.7 L1173.2,847.8 L1173.8,845.9 L1174.4,844.0 L1174.9,842.0 L1175.5,840.1 L1176.1,838.2 L1176.6,836.3 L1177.2,834.4 L1177.7,832.4 L1178.2,830.5 L1178.8,828.6 L1179.3,826.7 L1179.8,824.7 L1180.4,822.8 L1180.9,820.9 L1181.4,818.9 L1181.9,817.0 L1182.4,815.1 L1182.9,813.1 L1183.4,811.2 L1183.9,809.3 L1184.4,807.3 L1184.9,805.4 L1185.3,803.4 L1185.8,801.5 L1186.3,799.5 L1186.8,797.6 L1187.2,795.7 L1187.7,793.7 L1188.1,791.8 L1188.6,789.8 L1189.0,787.9 L1189.5,785.9 L1189.9,784.0 L1190.4,782.0 L1190.8,780.1 L1191.2,778.1 L1191.7,776.1 L1192.1,774.2 L1192.5,772.2 L1192.9,770.3 L1193.4,768.3 L1193.8,766.4 L1194.2,764.4 L1194.6,762.4 L1195.0,760.5 L1195.4,758.5 L1195.8,756.6 L1196.2,754.6 L1196.6,752.6 L1197.0,750.7 L1197.4,748.7 L1197.8,746.8 L1198.2,744.8 L1198.6,742.8 L1199.0,740.9 L1199.4,738.9 L1199.8,736.9 L1200.1,735.0 L1200.5,733.0 L1200.9,731.0 L1201.3,729.1 L1201.7,727.1 L1202.0,725.2 L1202.4,723.2 L1202.8,721.2 L1203.2,719.3 L1203.5,717.3 L1203.9,715.3 L1204.3,713.4 L1204.6,711.4 L1205.0,709.4 L1205.4,707.5 L1205.7,705.5 L1206.1,703.5 L1206.5,701.6 L1206.8,699.6 L1207.2,697.6 L1207.5,695.7 L1207.9,693.7 L1208.3,691.8 L1208.6,689.8 L1209.0,687.8 L1209.3,685.9 L1209.7,683.9 L1210.1,681.9 L1210.4,680.0 L1210.8,678.0 L1211.1,676.0 L1211.5,674.1 L1211.8,672.1 L1212.2,670.1 L1212.5,668.2 L1212.9,666.2 L1213.2,664.2 L1213.6,662.3 L1213.9,660.3 L1214.3,658.3 L1214.6,656.4 L1214.9,654.4 L1215.3,652.5 L1215.6,650.5 L1216.0,648.5 L1216.3,646.6 L1216.7,644.6 L1217.0,642.6 L1217.3,640.7 L1217.7,638.7 L1218.0,636.7 L1218.4,634.8 L1218.7,632.8 L1219.0,630.8 L1219.4,628.9 L1219.7,626.9 L1220.0,624.9 L1220.4,623.0 L1220.7,621.0 L1221.0,619.0 L1221.4,617.1 L1221.7,615.1 L1222.0,613.1 L1222.4,611.2 L1222.7,609.2 L1223.0,607.2 L1223.4,605.2 L1223.7,603.3 L1224.0,601.3 L1224.4,599.3 L1224.7,597.4 L1225.0,595.4 L1225.4,593.4 L1225.7,591.5 L1226.0,589.5 L1226.3,587.5 L1226.7,585.6 L1227.0,583.6 L1227.3,581.6 L1227.6,579.6 L1228.0,577.7 L1228.3,575.7 L1228.6,573.7 L1228.9,571.8 L1229.3,569.8 L1229.6,567.8 L1229.9,565.8 L1230.2,563.9 L1230.6,561.9 L1230.9,559.9 L1231.2,558.0 L1231.5,556.0 L1231.9,554.0 L1232.2,552.0 L1232.5,550.1 L1232.8,548.1 L1233.1,546.1 L1233.5,544.1 L1233.8,542.2 L1234.1,540.2 L1234.4,538.2 L1234.7,536.2 L1235.1,534.3 L1235.4,532.3 L1235.7,530.3 L1236.0,528.3 L1236.4,526.4 L1236.7,524.4 L1237.0,522.4 L1237.3,520.4 L1237.6,518.4 L1238.0,516.5 L1238.3,514.5 L1238.6,512.5 L1238.9,510.5 L1239.2,508.5 L1239.6,506.6 L1239.9,504.6 L1240.2,502.6 L1240.5,500.6 L1240.8,498.6 L1241.2,496.7 L1241.5,494.7 L1241.8,492.7 L1242.1,490.7 L1242.4,488.7 L1242.8,486.8 L1243.1,484.8 L1243.4,482.8 L1243.7,480.8 L1244.1,478.8 L1244.4,476.8 L1244.7,474.8 L1245.0,472.9 L1245.4,470.9 L1245.7,468.9 L1246.0,466.9 L1246.4,464.9 L1246.7,462.9 L1247.1,461.0 L1247.4,459.0 L1247.8,457.0 L1248.2,455.0 L1248.5,453.0 L1248.9,451.1 L1249.3,449.1 L1249.7,447.1 L1250.1,445.1 L1250.6,443.1 L1251.0,441.2 L1251.5,439.2 L1251.9,437.2 L1252.4,435.2 L1252.9,433.3 L1253.4,431.3 L1253.9,429.3 L1254.4,427.4 L1254.9,425.4 L1255.5,423.5 L1256.1,421.5 L1256.7,419.5 L1257.3,417.6 L1257.9,415.6 L1258.5,413.7 L1259.2,411.7 L1259.9,409.8 L1260.6,407.9 L1261.3,405.9 L1262.0,404.0 L1262.8,402.0 L1263.6,400.1 L1264.4,398.2 L1265.2,396.3 L1266.1,394.3 L1266.9,392.4 L1267.8,390.5 L1268.8,388.6 L1269.7,386.8 L1270.7,385.0 L1271.7,383.4 L1272.7,381.9 L1273.7,380.5 L1274.8,379.3 L1275.8,378.3 L1276.9,377.6 L1278.0,377.1 L1279.1,376.9 L1280.2,376.9 L1281.4,377.4 L1282.5,378.2 L1283.7,379.3 L1284.8,380.7 L1285.9,382.4 L1287.0,384.4 L1288.1,386.4 L1289.1,388.6 L1290.0,390.9 L1290.8,393.2 L1291.6,395.5 L1292.4,397.9 L1293.1,400.3 L1293.7,402.7 L1294.4,405.2 L1294.9,407.6 L1295.5,410.0 L1296.1,412.4 L1296.6,414.7 L1297.1,417.0 L1297.7,419.2 L1298.2,421.4 L1298.7,423.5 L1299.2,425.6 L1299.8,427.7 L1300.3,429.7 L1300.8,431.6 L1301.3,433.6 L1301.8,435.5 L1302.3,437.4 L1302.8,439.2 L1303.3,441.1 L1303.8,442.9 L1304.3,444.7 L1304.7,446.5 L1305.2,448.3 L1305.7,450.1 L1306.2,451.8 L1306.6,453.6 L1307.1,455.4 L1307.5,457.2 L1308.0,459.0 L1308.4,460.8 L1308.9,462.6 L1309.3,464.5 L1309.8,466.3 L1310.2,468.2 L1310.6,470.1 L1311.0,472.0 L1311.4,473.9 L1311.9,475.8 L1312.3,477.7 L1312.7,479.6 L1313.1,481.6 L1313.5,483.5 L1313.9,485.5 L1314.3,487.5 L1314.7,489.4 L1315.1,491.4 L1315.4,493.4 L1315.8,495.4 L1316.2,497.4 L1316.6,499.4 L1317.0,501.4 L1317.4,503.4 L1317.8,505.4 L1318.2,507.4 L1318.6,509.5 L1319.0,511.5 L1319.3,513.5 L1319.7,515.5 L1320.1,517.5 L1320.5,519.5 L1320.9,521.6 L1321.3,523.6 L1321.7,525.6 L1322.1,527.6 L1322.5,529.6 L1322.9,531.6 L1323.4,533.6 L1323.8,535.6 L1324.2,537.5 L1324.6,539.5 L1325.0,541.5 L1325.5,543.5 L1325.9,545.4 L1326.3,547.4 L1326.8,549.3 L1327.2,551.3 L1327.6,553.2 L1328.1,555.2 L1328.5,557.1 L1329.0,559.1 L1329.4,561.0 L1329.9,562.9 L1330.4,564.9 L1330.8,566.8 L1331.3,568.7 L1331.7,570.6 L1332.2,572.6 L1332.7,574.5 L1333.1,576.4 L1333.6,578.3 L1334.1,580.2 L1334.6,582.1 L1335.0,584.0 L1335.5,586.0 L1336.0,587.9 L1336.5,589.8 L1337.0,591.7 L1337.5,593.6 L1338.0,595.5 L1338.4,597.4 L1338.9,599.3 L1339.4,601.2 L1339.9,603.1 L1340.4,605.0 L1340.9,606.9 L1341.4,608.9 L1341.9,610.8 L1342.4,612.7 L1342.9,614.6 L1343.4,616.5 L1343.9,618.4 L1344.4,620.4 L1344.9,622.3 L1345.4,624.2 L1345.9,626.1 L1346.4,628.1 L1346.9,630.0 L1347.4,631.9 L1347.9,633.9 L1348.5,635.8 L1349.0,637.7 L1349.5,639.7 L1350.0,641.6 L1350.5,643.6 L1351.0,645.5 L1351.5,647.5 L1352.0,649.5 L1352.5,651.4 L1353.1,653.4 L1353.6,655.4 L1354.1,657.3 L1354.7,659.3 L1355.2,661.2 L1355.8,663.2 L1356.3,665.2 L1356.9,667.1 L1357.5,669.1 L1358.1,671.0 L1358.7,673.0 L1359.3,674.9 L1359.9,676.8 L1360.6,678.8 L1361.2,680.7 L1361.9,682.6 L1362.6,684.5 L1363.3,686.4 L1364.0,688.3 L1364.7,690.2 L1365.5,692.1 L1366.3,694.0 L1367.1,695.8 L1367.9,697.7 L1368.7,699.5 L1369.6,701.3 L1370.5,703.1 L1371.4,704.9 L1372.3,706.7 L1373.3,708.5 L1374.3,710.3 L1375.3,712.0 L1376.3,713.7 L1377.4,715.5 L1378.5,717.2 L1379.6,718.9 L1380.8,720.5 L1382.0,722.2 L1383.2,723.8 L1384.4,725.4 L1385.7,727.0 L1387.1,728.6 L1388.4,730.1 L1389.8,731.7 L1391.2,733.1 L1392.7,734.5 L1394.2,735.9 L1395.7,737.1 L1397.3,738.3 L1398.9,739.3 L1400.6,740.2 L1402.3,741.0 L1404.1,741.6 L1405.9,742.0 L1407.7,742.3 L1409.6,742.4 L1411.5,742.3 L1413.4,742.1 L1415.4,741.7 L1417.4,741.1 L1419.3,740.5 L1421.3,739.8 L1423.3,738.9 L1425.2,738.0 L1427.1,737.0 L1428.9,736.0 L1430.7,735.0 L1432.4,733.8 L1434.1,732.7 L1435.8,731.5 L1437.4,730.3 L1438.9,729.1 L1440.5,727.8 L1442.0,726.5 L1443.4,725.2 L1444.9,723.8 L1446.3,722.4 L1447.7,721.0 L1449.0,719.6 L1450.3,718.2 L1451.7,716.7 L1453.0,715.2 L1454.2,713.7 L1455.5,712.2 L1456.8,710.7 L1458.0,709.2 L1459.2,707.7 L1460.4,706.2 L1461.7,704.6 L1462.9,703.1 L1464.0,701.5 L1465.2,699.9 L1466.4,698.3 L1467.6,696.7 L1468.7,695.1 L1469.8,693.5 L1471.0,691.9 L1472.1,690.3 L1473.2,688.7 L1474.3,687.0 L1475.4,685.4 L1476.5,683.7 L1477.5,682.1 L1478.6,680.4 L1479.6,678.7 L1480.7,677.0 L1481.7,675.3 L1482.7,673.6 L1483.8,671.9 L1484.8,670.2 L1485.8,668.5 L1486.8,666.8 L1487.7,665.0 L1488.7,663.3 L1489.7,661.5 L1490.7,659.8 L1491.6,658.0 L1492.6,656.3 L1493.5,654.5 L1494.4,652.7 L1495.3,651.0 L1496.3,649.2 L1497.2,647.4 L1498.1,645.6 L1499.0,643.8 L1499.8,642.0 L1500.7,640.2 L1501.6,638.4 L1502.5,636.6 L1503.3,634.7 L1504.2,632.9 L1505.0,631.1 L1505.9,629.2 L1506.7,627.4 L1507.6,625.6 L1508.4,623.7 L1509.2,621.9 L1510.0,620.0 L1510.8,618.2 L1511.6,616.3 L1512.4,614.5 L1513.2,612.6 L1514.0,610.8 L1514.8,608.9 L1515.6,607.0 L1516.4,605.2 L1517.1,603.3 L1517.9,601.4 L1518.7,599.5 L1519.4,597.7 L1520.2,595.8 L1520.9,593.9 L1521.7,592.0 L1522.4,590.1 L1523.1,588.3 L1523.9,586.4 L1524.6,584.5 L1525.3,582.6 L1526.1,580.7 L1526.8,578.8 L1527.5,577.0 L1528.2,575.1 L1528.9,573.2 L1529.7,571.3 L1530.4,569.4 L1531.1,567.5 L1531.8,565.6 L1532.5,563.7 L1533.2,561.9 L1533.8,560.0 L1534.5,558.1 L1535.2,556.2 L1535.9,554.3 L1536.6,552.4 L1537.3,550.5 L1537.9,548.6 L1538.6,546.7 L1539.3,544.8 L1539.9,542.9 L1540.6,541.1 L1541.3,539.2 L1541.9,537.3 L1542.6,535.4 L1543.2,533.5 L1543.9,531.6 L1544.5,529.7 L1545.2,527.8 L1545.8,525.9 L1546.4,524.0 L1547.1,522.1 L1547.7,520.2 L1548.3,518.3 L1549.0,516.4 L1549.6,514.5 L1550.2,512.6 L1550.8,510.7 L1551.4,508.8 L1552.1,506.9 L1552.7,505.0 L1553.3,503.1 L1553.9,501.2 L1554.5,499.3 L1555.1,497.4 L1555.7,495.5 L1556.3,493.6 L1556.9,491.6 L1557.5,489.7 L1558.1,487.8 L1558.6,485.9 L1559.2,484.0 L1559.8,482.1 L1560.4,480.2 L1561.0,478.3 L1561.5,476.4 L1562.1,474.5 L1562.7,472.6 L1563.2,470.6 L1563.8,468.7 L1564.4,466.8 L1564.9,464.9 L1565.5,463.0 L1566.1,461.1 L1566.6,459.2 L1567.2,457.3 L1567.7,455.3 L1568.3,453.4 L1568.8,451.5 L1569.4,449.6 L1569.9,447.7 L1570.4,445.8 L1571.0,443.8 L1571.5,441.9 L1572.1,440.0 L1572.6,438.1 L1573.1,436.2 L1573.6,434.3 L1574.2,432.3 L1574.7,430.4 L1575.2,428.5 L1575.7,426.6 L1576.3,424.6 L1576.8,422.7 L1577.3,420.8 L1577.8,418.9 L1578.3,417.0 L1578.8,415.0 L1579.3,413.1 L1579.8,411.2 L1580.4,409.2 L1580.9,407.3 L1581.4,405.4 L1581.9,403.5 L1582.4,401.5 L1582.9,399.6 L1583.4,397.7 L1583.8,395.8 L1584.3,393.8 L1584.8,391.9 L1585.3,390.0 L1585.8,388.0 L1586.3,386.1 L1586.8,384.2 L1587.3,382.2 L1587.7,380.3 L1588.2,378.4 L1588.7,376.4 L1589.2,374.5 L1589.7,372.6 L1590.1,370.6 L1590.6,368.7 L1591.1,366.8 L1591.6,364.8 L1592.0,362.9 L1592.5,361.0 L1593.0,359.0 L1593.4,357.1 L1593.9,355.1 L1594.4,353.2 L1594.8,351.3 L1595.3,349.3 L1595.7,347.4 L1596.2,345.4 L1596.7,343.5 L1597.1,341.5 L1597.6,339.6 L1598.0,337.7 L1598.5,335.7 L1598.9,333.8 L1599.4,331.8 L1599.8,329.9 L1600.3,327.9 L1600.7,326.0 L1601.2,324.0 L1601.6,322.1 L1602.1,320.2 L1602.5,318.2 L1602.9,316.3 L1603.4,314.3 L1603.8,312.4 L1604.3,310.4 L1604.7,308.5 L1605.2,306.5 L1605.6,304.6 L1606.0,302.6 L1606.5,300.7 L1606.9,298.7 L1607.3,296.8 L1607.8,294.8 L1608.2,292.8 L1608.6,290.9 L1609.1,288.9 L1609.5,287.0 L1609.9,285.0 L1610.4,283.1 L1610.8,281.1 L1611.2,279.2 L1611.7,277.2 L1612.1,275.2 L1612.5,273.3 L1612.9,271.3 L1613.4,269.4 L1613.8,267.4 L1614.2,265.4 L1614.6,263.5 L1615.1,261.5 L1615.5,259.6 L1615.9,257.6 L1616.3,255.6 L1616.8,253.7 L1617.2,251.7 L1617.6,249.7 L1618.0,247.8 L1618.5,245.8 L1618.9,243.9 L1619.3,241.9 L1619.7,239.9 L1620.1,238.0 L1620.6,236.0" fill="none" stroke="#00f" stroke-width="10" stroke-linejoin="round" stroke-linecap="butt"/>
<g stroke="#000" stroke-width="10" fill="none" stroke-linecap="butt">
<path d="M237,47.5 H1795 M237,1107.5 H1795 M252,42.5 V1133.0 M1790,42.5 V1123.0"/>
<path d="M423.8,1107.5 V1123.0"/>
<path d="M594.6,1107.5 V1133.0"/>
<path d="M765.3,1107.5 V1123.0"/>
<path d="M936.1,1107.5 V1133.0"/>
<path d="M1106.9,1107.5 V1123.0"/>
<path d="M1277.7,1107.5 V1133.0"/>
<path d="M1448.5,1107.5 V1123.0"/>
<path d="M1619.2,1107.5 V1133.0"/>
<path d="M252,1001.5 H227"/>
<path d="M252,895.5 H237"/>
<path d="M252,789.5 H227"/>
<path d="M252,683.5 H237"/>
<path d="M252,577.5 H227"/>
<path d="M252,471.5 H237"/>
<path d="M252,365.5 H227"/>
<path d="M252,259.5 H237"/>
<path d="M252,153.5 H227"/>
</g>
<g font-family="'Liberation Serif','Times New Roman',serif" font-weight="bold" fill="#000" stroke="#fff" stroke-width="1.4" stroke-linejoin="round">
<text x="195.85" y="1208.00" font-size="84.5" textLength="112.49" lengthAdjust="spacingAndGlyphs">0.4</text>
<text x="537.91" y="1208.00" font-size="84.5" textLength="112.49" lengthAdjust="spacingAndGlyphs">0.6</text>
<text x="879.65" y="1208.00" font-size="84.5" textLength="112.49" lengthAdjust="spacingAndGlyphs">0.8</text>
<text x="1219.54" y="1208.00" font-size="84.5" textLength="112.49" lengthAdjust="spacingAndGlyphs">1.0</text>
<text x="1561.33" y="1208.00" font-size="84.5" textLength="112.49" lengthAdjust="spacingAndGlyphs">1.2</text>
<text x="169.50" y="178.50" font-size="84.5" textLength="45.00" lengthAdjust="spacingAndGlyphs">5</text>
<text x="169.50" y="390.50" font-size="84.5" textLength="45.00" lengthAdjust="spacingAndGlyphs">4</text>
<text x="169.50" y="602.50" font-size="84.5" textLength="45.00" lengthAdjust="spacingAndGlyphs">3</text>
<text x="169.50" y="814.50" font-size="84.5" textLength="45.00" lengthAdjust="spacingAndGlyphs">2</text>
<text x="169.50" y="1026.50" font-size="84.5" textLength="45.00" lengthAdjust="spacingAndGlyphs">1</text>
</g>
<g font-family="'Liberation Serif','Times New Roman',serif" font-weight="bold" fill="#000">
<text x="770.67" y="1308.00" font-size="84" textLength="477.86" lengthAdjust="spacingAndGlyphs">Potential / V</text>
<g transform="translate(101,787) scale(1.065,1) rotate(-90)"><text x="-4.09" y="0" font-size="85.5" textLength="462.66" lengthAdjust="spacingAndGlyphs">Current / μA</text></g>
</g>
<path d="M369,145 H474.7" stroke="#000" stroke-width="9.8" stroke-linecap="butt" stroke-linejoin="round"/>
<path d="M369,217 H474.7" stroke="#f00" stroke-width="9.8" stroke-linecap="butt" stroke-linejoin="round"/>
<path d="M369,290.5 H474.7" stroke="#00f" stroke-width="9.8" stroke-linecap="butt" stroke-linejoin="round"/>
<g font-family="'Liberation Serif','Times New Roman',serif" font-weight="bold" fill="#000" stroke="#fff" stroke-width="0.7" stroke-linejoin="round">
<text x="478.61" y="159.30" font-size="61.5" textLength="805.63" lengthAdjust="spacingAndGlyphs">20μMHX-20μMXT-bareGCE</text>
<text x="485.82" y="231.60" font-size="61.5" textLength="826.46" lengthAdjust="spacingAndGlyphs">20μMHX-20μMXT-rGO/GCE</text>
<text x="485.82" y="303.90" font-size="61.5" textLength="998.42" lengthAdjust="spacingAndGlyphs">20μMHX-20μMXT-p-Gly/rGO/GCE</text>
</g>
<rect x="323.4" y="97.6" width="1188.3" height="219.7" fill="none" stroke="#666" stroke-width="3"/>
</svg>
</body></html>
